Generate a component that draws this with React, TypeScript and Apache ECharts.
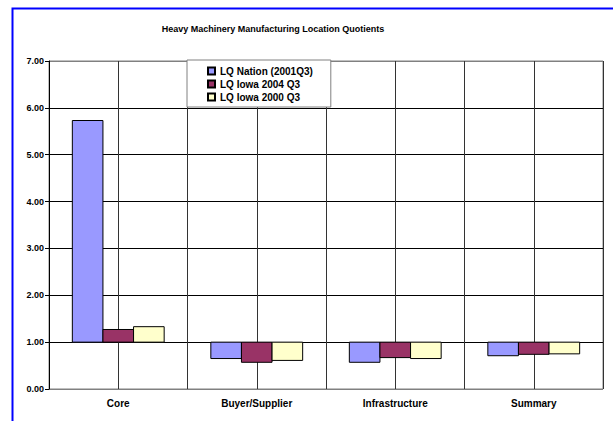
import React, { useEffect, useRef } from "react";
import * as echarts from "echarts";

const categories = ["Core", "Buyer/Supplier", "Infrastructure", "Summary"];
const seriesNames = ["LQ Nation (2001Q3)", "LQ Iowa 2004 Q3", "LQ Iowa 2000 Q3"];
const lqNation = [5.73, 0.65, 0.57, 0.71];
const lqIowa2004 = [1.27, 0.57, 0.67, 0.74];
const lqIowa2000 = [1.33, 0.61, 0.65, 0.75];
const seriesColors = ["#9999FF", "#993366", "#FFFFCC"];
const baseline = 1.0;
const yMin = 0;
const yMax = 7;
const yInterval = 1;

const FONT = "'Liberation Sans', Arial, sans-serif";

export default function App() {
  const ref = useRef<HTMLDivElement>(null);
  useEffect(() => {
    if (!ref.current) return;
    const chart = echarts.init(ref.current, null, { renderer: "svg" });
    const allValues = [lqNation, lqIowa2004, lqIowa2000];
    const nBars = allValues.length;
    const barFrac = 0.221;
    const series = allValues.map((vals, si) => ({
      name: seriesNames[si],
      type: "custom",
      xAxisIndex: 0,
      yAxisIndex: 0,
      itemStyle: { color: seriesColors[si], borderColor: "#000", borderWidth: 1 },
      data: vals.map((v, i) => [i, v]),
      renderItem: (params: any, api: any) => {
        const cat = api.value(0);
        const v = api.value(1);
        const p0 = api.coord([cat, baseline]);
        const p1 = api.coord([cat, v]);
        const band = api.size([1, 0])[0];
        const w = band * barFrac;
        const x = p0[0] - (nBars / 2) * w + si * w;
        const y = Math.min(p0[1], p1[1]);
        const h = Math.abs(p0[1] - p1[1]);
        return {
          type: "rect",
          shape: { x, y, width: w, height: h },
          style: { fill: seriesColors[si], stroke: "#000", lineWidth: 1 },
        };
      },
    }));
    const splitColors: string[] = [];
    for (let t = yMin; t <= yMax; t += yInterval) {
      splitColors.push(t === yMin || t === yMax ? "#808080" : "#000");
    }
    chart.setOption({
      animation: false,
      backgroundColor: "#fff",
      title: {
        text: "Heavy Machinery Manufacturing Location Quotients",
        left: 268,
        top: 19,
        textAlign: "center",
        textStyle: { fontFamily: FONT, fontSize: 9, fontWeight: "bold", color: "#000" },
      },
      legend: {
        orient: "vertical",
        left: 187,
        top: 60,
        data: seriesNames,
        icon: "rect",
        itemWidth: 7,
        itemHeight: 7,
        itemGap: 3,
        padding: [6, 18, 5, 20],
        backgroundColor: "#fff",
        borderColor: "#808080",
        borderWidth: 1,
        selectedMode: false,
        textStyle: { fontFamily: FONT, fontSize: 10, fontWeight: "bold", color: "#000", lineHeight: 10 },
      },
      grid: {
        left: 49,
        right: 10,
        top: 61,
        bottom: 32,
        show: true,
        borderColor: "#808080",
        borderWidth: 1,
        backgroundColor: "#fff",
      },
      xAxis: [
        {
          type: "category",
          data: categories,
          boundaryGap: true,
          axisLine: { show: false },
          axisTick: { show: false },
          splitLine: { show: false },
          axisLabel: {
            margin: 9,
            fontFamily: FONT,
            fontSize: 10,
            fontWeight: "bold",
            color: "#000",
          },
        },
        {
          type: "category",
          data: ["", "", "", "", "", "", "", ""],
          boundaryGap: true,
          position: "bottom",
          axisLine: { show: false },
          axisTick: { show: false },
          axisLabel: { show: false },
          splitLine: { show: true, lineStyle: { color: "#333", width: 1 } },
        },
      ],
      yAxis: {
        type: "value",
        min: yMin,
        max: yMax,
        interval: yInterval,
        axisLine: { show: true, lineStyle: { color: "#000", width: 1 } },
        axisTick: { show: true, length: 4, lineStyle: { color: "#000" } },
        splitLine: { show: true, lineStyle: { color: splitColors, width: 1 } },
        axisLabel: {
          margin: 5,
          formatter: (v: number) => v.toFixed(2),
          fontFamily: FONT,
          fontSize: 9,
          fontWeight: "bold",
          color: "#000",
        },
      },
      graphic: [
        {
          type: "rect",
          left: 10,
          top: 6,
          shape: { x: 0, y: 0, width: 700, height: 500 },
          style: { fill: "none", stroke: "#0000FF", lineWidth: 2 },
          silent: true,
          z: 100,
        },
      ],
      series,
    });
    return () => chart.dispose();
  }, []);
  return (
    <div
      ref={ref}
      style={{ position: "fixed", left: 0, top: 0, width: 613, height: 421 }}
    />
  );
}
